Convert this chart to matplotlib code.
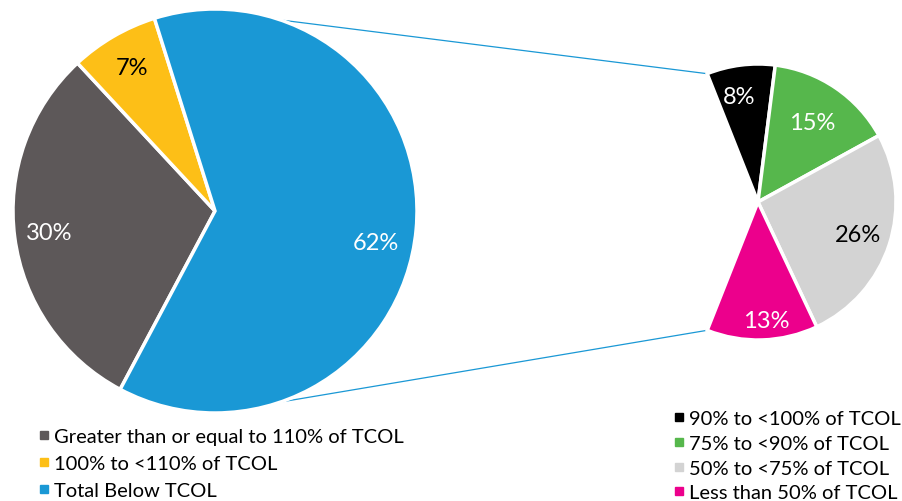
import numpy as np
import matplotlib.pyplot as plt
from matplotlib.lines import Line2D

plt.rcParams['font.family'] = ['Lato', 'DejaVu Sans']

# main pie: share of portfolio vs TCOL
main_labels = ['Greater than or equal to 110% of TCOL', '100% to <110% of TCOL', 'Total Below TCOL']
main_values = [30, 7, 62]
main_colors = ['#5D5859', '#FDBF17', '#1A98D5']
main_text = ['white', 'black', 'white']

# breakdown of the "Total Below TCOL" slice
sub_labels = ['90% to <100% of TCOL', '75% to <90% of TCOL', '50% to <75% of TCOL', 'Less than 50% of TCOL']
sub_values = [8, 15, 26, 13]
sub_colors = ['#000000', '#56B74C', '#D3D3D3', '#EC008C']
sub_text = ['white', 'white', 'black', 'white']

W, H = 903, 502
fig = plt.figure(figsize=(W / 100, H / 100), dpi=100)
ax = fig.add_axes([0, 0, 1, 1])


def label_wedges(wedges, values, colors, center, radius, dists, shifts):
    for w, v, col, d, s in zip(wedges, values, colors, dists, shifts):
        ang = np.radians((w.theta1 + w.theta2) / 2 + s)
        x = center[0] + d * radius * np.cos(ang)
        y = center[1] + d * radius * np.sin(ang)
        ax.text(x, y, f'{v}%', color=col, fontsize=17, ha='center', va='center')


# big pie
c1, r1 = (215, 290), 202
wedges1, _ = ax.pie(main_values, colors=main_colors, center=c1, radius=r1,
                    startangle=242, counterclock=False, frame=True,
                    wedgeprops=dict(edgecolor='white', linewidth=2.5))
label_wedges(wedges1, main_values, main_text, c1, r1, [0.83, 0.82, 0.81], [0, 0, -6])

# second pie only covers the 62% below TCOL, centred on the right
c2, r2 = (758, 299), 138
sub_frac = np.array(sub_values) / 100
span = sub_frac.sum() * 360
start2 = span / 2
wedges2, _ = ax.pie(sub_frac, colors=sub_colors, center=c2, radius=r2,
                    startangle=start2, counterclock=False, normalize=False, frame=True,
                    wedgeprops=dict(edgecolor='white', linewidth=2.5))
label_wedges(wedges2, sub_values, sub_text, c2, r2, [0.78, 0.70, 0.76, 0.86], [3, 0, 0, 2])

# connector lines between the two pies
blue = main_colors[2]
for a1, a2 in [(71, start2), (-71, -start2)]:
    p1 = (c1[0] + r1 * np.cos(np.radians(a1)), c1[1] + r1 * np.sin(np.radians(a1)))
    p2 = (c2[0] + r2 * np.cos(np.radians(a2)), c2[1] + r2 * np.sin(np.radians(a2)))
    ax.plot([p1[0], p2[0]], [p1[1], p2[1]], color=blue, lw=0.9, zorder=0)

ax.set_xlim(0, W)
ax.set_ylim(0, H)
ax.set_aspect('equal')
ax.axis('off')


def square_handles(colors):
    return [Line2D([], [], marker='s', color=c, linestyle='None', markersize=6) for c in colors]


leg1 = ax.legend(square_handles(main_colors), main_labels, loc='upper left',
                 bbox_to_anchor=(29 / W, 1 - 419 / H), frameon=False, fontsize=14.5,
                 handlelength=0.5, handletextpad=0.25, labelspacing=0.5, borderpad=0)
ax.add_artist(leg1)
ax.legend(square_handles(sub_colors), sub_labels, loc='upper left',
          bbox_to_anchor=(664 / W, 1 - 401 / H), frameon=False, fontsize=14.5,
          handlelength=0.5, handletextpad=0.25, labelspacing=0.38, borderpad=0)

fig.savefig('out.png', dpi=100, facecolor='white')
